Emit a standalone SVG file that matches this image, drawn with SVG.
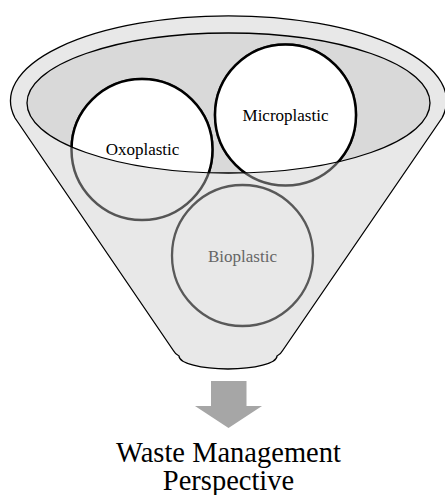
<svg xmlns="http://www.w3.org/2000/svg" width="445" height="495" viewBox="0 0 445 495">
<style>
.lbl{font-family:"Liberation Serif","Times New Roman",serif;font-size:17px;text-anchor:middle}
.big{font-family:"Liberation Serif","Times New Roman",serif;font-size:28.5px;text-anchor:middle;fill:#000}
</style>
<defs>
<clipPath id="inner"><ellipse cx="228.5" cy="103" rx="201.5" ry="70"/></clipPath>
</defs>
<rect width="445" height="495" fill="#fff"/>
<g id="funnel">
<path d="M 15 118 L 173 350 Q 175.5 354.5 179 356 A 49 13 0 0 0 277 356 Q 280.5 354.5 283 350 L 442 118 A 218 85 0 1 0 15 118 Z" fill="#e8e8e8" stroke="#000" stroke-width="1.3"/>
<ellipse cx="228.5" cy="103" rx="201.5" ry="70" fill="#d9d9d9" stroke="none"/>
</g>
<g id="bioplastic">
<circle cx="242.5" cy="255.5" r="70.5" fill="none" stroke="#595959" stroke-width="2.3"/>
<text class="lbl" x="242.5" y="262" fill="#666">Bioplastic</text>
</g>
<g id="oxoplastic">
<circle cx="142" cy="149.5" r="70.5" fill="none" stroke="#555" stroke-width="2.5"/>
<circle cx="142" cy="149.5" r="70.5" fill="#fff" stroke="#000" stroke-width="2.5" clip-path="url(#inner)"/>
<text class="lbl" x="142.5" y="155" fill="#000">Oxoplastic</text>
</g>
<g id="microplastic">
<circle cx="285.5" cy="115" r="70.5" fill="none" stroke="#555" stroke-width="2.5"/>
<circle cx="285.5" cy="115" r="70.5" fill="#fff" stroke="#000" stroke-width="2.5" clip-path="url(#inner)"/>
<text class="lbl" x="285.5" y="121" fill="#000">Microplastic</text>
</g>
<g id="inner-rim">
<ellipse cx="228.5" cy="103" rx="201.5" ry="70" fill="none" stroke="#000" stroke-width="1.3"/>
</g>
<g id="connectors">
<path d="M 211 381 L 246.5 381 L 246.5 406 L 262 406 L 228.5 428 L 195 406 L 211 406 Z" fill="#a6a6a6"/>
</g>
<g id="result">
<text class="big" x="228.5" y="461.5">Waste Management</text>
<text class="big" x="228.5" y="489.5">Perspective</text>
</g>
</svg>
